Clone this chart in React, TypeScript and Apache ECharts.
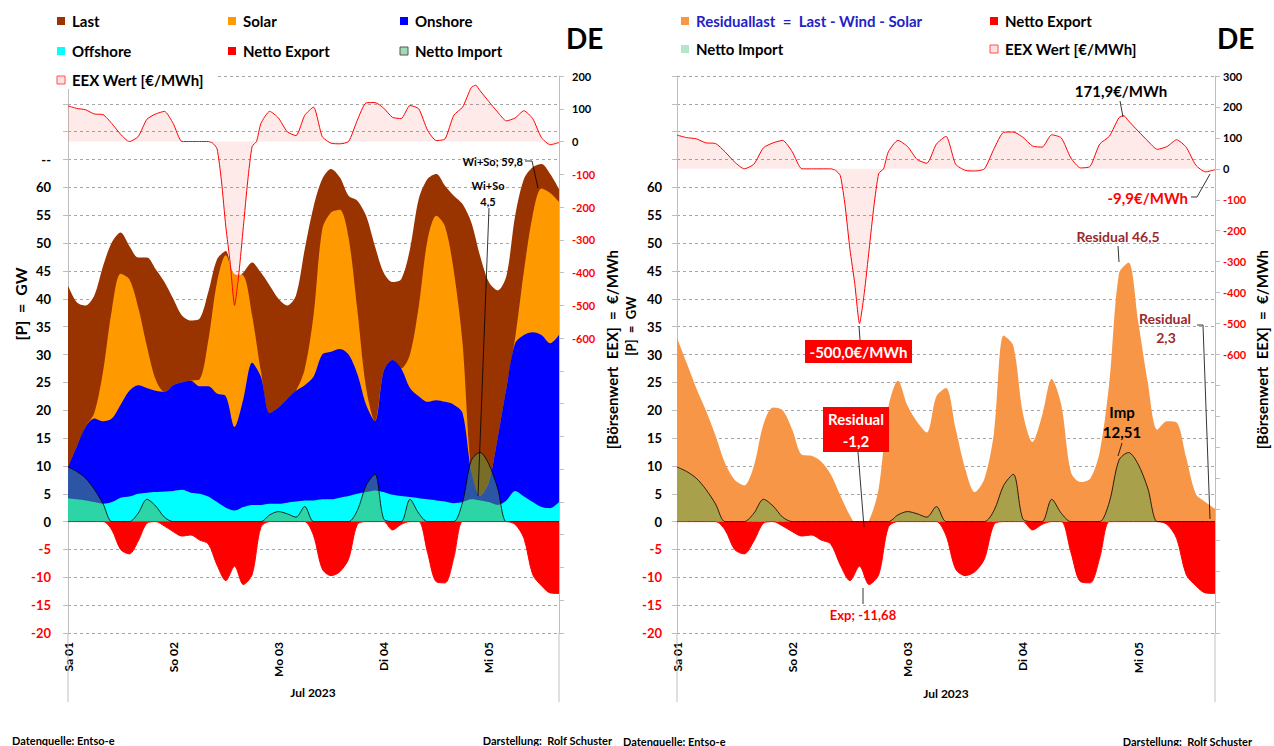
import React, { useEffect, useRef } from 'react';
import * as echarts from 'echarts';

const FONT = 'Lato, "Open Sans", sans-serif';

// hours since Sa 01.07.2023 00:00
const hours = [0, 2, 4, 6, 8, 10, 12, 14, 16, 18, 20, 22, 24, 26, 28, 30, 32, 34, 36, 38, 40, 42, 44, 46, 48, 50, 52, 54, 56, 58, 60, 62, 64, 66, 68, 70, 72, 74, 76, 78, 80, 82, 84, 86, 88, 90, 92, 94, 96, 98, 100, 102, 104, 106, 108, 110, 112];
const dayLabels = ['Sa 01', 'So 02', 'Mo 03', 'Di 04', 'Mi 05'];

// GW
const last = [42.4, 39.4, 38.8, 40.6, 45.9, 50.1, 51.9, 49.5, 47.4, 47.4,
  45.3, 43.0, 40.0, 37.0, 36.1, 36.4, 41.2, 47.1, 48.6, 43.2,
  44.7, 46.5, 44.7, 42.4, 40.0, 38.8, 40.6, 48.9, 56.5, 61.5,
  63.3, 61.8, 58.5, 57.6, 54.9, 49.5, 44.7, 43.0, 43.5, 48.9,
  57.9, 61.5, 62.4, 60.3, 58.5, 57.0, 53.7, 47.7, 43.0, 41.5,
  44.1, 54.9, 61.5, 63.6, 64.2, 62.4, 59.7];
const offshore = [4.2, 4.0, 3.8, 3.5, 3.2, 3.5, 4.3, 4.5, 5.0, 5.2,
  5.3, 5.4, 5.5, 5.7, 5.2, 5.0, 4.5, 3.5, 2.5, 2.0,
  2.6, 3.0, 3.0, 3.2, 3.2, 3.4, 3.6, 3.8, 3.8, 4.0,
  4.0, 4.3, 4.6, 5.0, 5.3, 5.6, 5.3, 4.8, 4.6, 4.4,
  4.2, 4.0, 3.8, 3.6, 3.3, 3.5, 4.0, 3.8, 3.5, 3.0,
  3.8, 5.5, 4.5, 3.5, 2.6, 2.4, 3.5];
const onshore = [5.6, 9.5, 13.2, 15.0, 14.8, 15.0, 16.7, 19.0, 19.5, 18.8,
  18.2, 17.9, 19.0, 19.3, 20.1, 19.3, 19.8, 19.5, 20.0, 15.0,
  19.4, 25.5, 23.0, 16.3, 17.3, 18.6, 19.9, 20.7, 22.2, 26.0,
  26.5, 26.7, 25.4, 21.5, 15.7, 12.4, 21.7, 24.2, 22.9, 19.6,
  18.3, 17.5, 18.0, 17.9, 17.7, 16.0, 5.0, 0.8, 3.5, 12.0,
  20.2, 26.5, 29.0, 30.5, 30.9, 29.6, 30.0];
const solar = [0, 0, 0, 1.0, 9.0, 19.5, 23.5, 20.0, 14.0, 7.5,
  2.0, 0, 0, 0, 0, 1.2, 8.2, 20.0, 25.3, 27.4,
  22.2, 8.5, 1.0, 0, 0, 0, 0, 2.9, 11.0, 22.5,
  25.0, 25.0, 21.0, 11.5, 3.0, 0, 0, 0, 0, 6.0,
  16.1, 29.0, 33.1, 31.5, 24.0, 12.5, 0, 0, 0, 0,
  0, 1.0, 11.5, 21.0, 26.3, 27.0, 23.9];
const nettoExport = [0, 0, 0, 0, 0, -1.5, -5.0, -5.8, -3.5, -0.3,
  0, -0.8, -1.8, -2.6, -2.4, -3.3, -4.0, -7.8, -10.6, -8.0,
  -11.3, -9.5, -1.0, 0, 0, 0, 0, 0, -2.5, -8.5,
  -9.7, -9.0, -6.7, -0.5, 0, 0, 0, -1.5, -0.5, 0,
  0, -5.5, -10.8, -11.0, -6.5, 0, 0, 0, 0, 0,
  0, -0.5, -3.0, -9.5, -11.5, -12.8, -12.9];
const nettoImport = [9.8, 9.0, 7.8, 5.8, 3.2, 0, 0, 0, 1.5, 4.0,
  2.8, 0.8, 0, 0, 0, 0, 0, 0, 0, 0,
  0, 0, 0, 1.2, 1.8, 1.4, 0.8, 2.7, 0, 0,
  0, 0, 0, 2.0, 6.5, 8.5, 0.5, 0, 0, 4.0,
  1.5, 0, 0, 0, 0, 3.5, 11.0, 12.4, 10.3, 6.0,
  0, 0, 0, 0, 0, 0, 0];
const residual = [33.0, 28.5, 24.0, 20.0, 15.5, 10.5, 7.5, 6.5, 10.0, 17.5,
  20.5, 20.0, 16.5, 12.0, 11.8, 10.8, 8.5, 4.7, 1.1, -1.2,
  0.3, 6.0, 20.5, 25.3, 20.8, 17.9, 16.0, 22.5, 24.0, 16.7,
  9.5, 5.3, 7.7, 16.0, 33.4, 31.6, 19.5, 14.3, 19.0, 25.6,
  21.0, 8.9, 7.1, 7.7, 12.5, 25.0, 44.5, 46.5, 36.0, 25.0,
  16.5, 18.0, 17.8, 11.5, 5.0, 3.5, 2.3];

// EUR/MWh
const priceHours = [0, 2, 4, 6, 8, 10, 12, 14, 16, 18, 20, 22, 24, 26, 28, 30, 32,
  33, 34, 35, 36, 37, 38, 39, 40, 41, 42, 43,
  44, 46, 48, 50, 52, 54, 56, 58, 60, 62, 64, 66, 68, 70, 72, 74, 76, 78, 80, 82, 84, 86, 88, 90, 92,
  93, 94, 96, 98, 100, 102, 104, 106, 108, 110, 112];
const price = [109, 101, 97, 84, 82, 55, 22, 0, 15, 68, 84, 92, 55, 0, 0, 0, 0,
  -5, -22, -120, -260, -370, -500, -400, -260, -120, -15, 0,
  55, 92, 72, 30, 18, 80, 105, 15, -5, -7, 0, 65, 118, 119, 102, 74, 70, 110, 100, 35, 3, 8, 80, 105, 165,
  171.9, 155, 122, 90, 63, 72, 94, 70, 12, -9.9, -3];

const pairs = (xs: number[], ys: number[]) => xs.map((x, i) => [x, ys[i]]);
// cumulative generation layers (drawn back to front, each from 0)
const windTotal = offshore.map((v, i) => v + onshore[i]);
const genTotal = windTotal.map((v, i) => v + solar[i]);

const GRAY = '#bfbfbf';
const richB = (size: number) => ({
  b: { color: '#000', fontWeight: 'bold', fontSize: size, fontFamily: FONT },
  r: { color: '#ff0000', fontWeight: 'bold', fontSize: size, fontFamily: FONT },
});

const gwAxis = (gridIndex: number, dash: boolean, margin: number) => ({
  type: 'value', gridIndex, position: 'left', min: -20, max: 80, interval: 5,
  axisLine: { show: true, lineStyle: { color: GRAY, width: 1 } },
  axisTick: { show: true, length: 5, lineStyle: { color: GRAY } },
  splitLine: { show: true, lineStyle: { color: '#a6a6a6', type: [3, 3], width: 1 } },
  axisLabel: {
    margin,
    formatter: (v: number) => (v > 60 ? (dash && v === 65 ? '{b|--}' : '') : v < 0 ? `{r|${v}}` : `{b|${v}}`),
    rich: richB(13),
  },
});

const priceAxis = (gridIndex: number, max: number, margin: number) => ({
  type: 'value', gridIndex, position: 'right', min: -1500, max, interval: 100,
  axisLine: { show: true, lineStyle: { color: GRAY, width: 1 } },
  axisTick: { show: true, length: 5, lineStyle: { color: GRAY } },
  splitLine: { show: false },
  axisLabel: {
    margin,
    formatter: (v: number) => (v < -600 ? '' : v < 0 ? `{r|${v}}` : `{b|${v}}`),
    rich: richB(11),
  },
});

const xAxis = (gridIndex: number) => ({
  type: 'value', gridIndex, min: 0, max: 112, interval: 24,
  axisLine: { show: false }, axisTick: { show: false }, splitLine: { show: false },
  axisLabel: {
    rotate: 90, margin: 9, color: '#000', fontWeight: 'bold', fontSize: 12, fontFamily: FONT,
    formatter: (v: number) => (v % 24 === 0 && v / 24 < dayLabels.length ? dayLabels[v / 24] : ''),
  },
});

const area = (name: string, xi: number, yi: number, data: number[][], color: string, extra: any = {}) => ({
  type: 'line', name, xAxisIndex: xi, yAxisIndex: yi, data, symbol: 'none', showSymbol: false,
  smooth: 0.3, silent: true, lineStyle: { width: 0 }, areaStyle: { color, opacity: 1 },
  emphasis: { disabled: true }, ...extra,
});

const IMPORT_FILL = 'rgba(90,170,78,0.5)';
const priceSeries = (xi: number, yi: number) => ({
  type: 'line', name: 'EEX Wert', xAxisIndex: xi, yAxisIndex: yi, data: pairs(priceHours, price),
  symbol: 'none', showSymbol: false, smooth: 0.2, silent: true,
  lineStyle: { width: 1, color: '#ff0000' }, areaStyle: { color: 'rgba(255,0,0,0.12)' },
  emphasis: { disabled: true },
});

// ---------- graphic helpers ----------
const txt = (text: string, x: number, y: number, o: any = {}) => ({
  type: 'text', x, y, z: 100, silent: true, rotation: o.rot || 0,
  style: {
    text, fill: o.fill || '#000', font: `bold ${o.size || 14}px ${FONT}`,
    textAlign: o.align || 'left', align: o.align || 'left',
    textVerticalAlign: 'middle', verticalAlign: 'middle',
  },
});
const box = (x: number, y: number, w: number, h: number, fill: string, stroke?: string) => ({
  type: 'rect', z: 99, silent: true, shape: { x, y, width: w, height: h },
  style: stroke ? { fill, stroke, lineWidth: 1 } : { fill },
});
const seg = (pts: number[][], stroke = '#000', w = 0.8) => ({
  type: 'polyline', z: 100, silent: true, shape: { points: pts }, style: { stroke, lineWidth: w, fill: null },
});
const legend = (x: number, y: number, color: string, label: string, o: any = {}) => [
  box(x, y - 4, 8, 8, color, o.stroke),
  txt(label, x + 15, y, { size: 15, fill: o.fill || '#000' }),
];

const DARKRED = '#9c2a2c';

const graphics: any[] = [
  // left legend
  box(55, 70, 160, 19, '#ffffff'),
  ...legend(57, 21, '#993300', 'Last'),
  ...legend(228, 21, '#ff9900', 'Solar'),
  ...legend(400, 21, '#0000ff', 'Onshore'),
  ...legend(57, 51, '#00ffff', 'Offshore'),
  ...legend(228, 51, '#ff0000', 'Netto Export'),
  ...legend(400, 51, '#9fdcb4', 'Netto Import', { stroke: '#555555' }),
  ...legend(57, 80, '#ffe0e0', 'EEX Wert [€/MWh]', { stroke: '#ff5050' }),
  txt('DE', 566, 38, { size: 28 }),
  // right legend
  ...legend(681, 21, '#f79646', 'Residuallast  =  Last - Wind - Solar', { fill: '#2222c8' }),
  ...legend(990, 21, '#ff0000', 'Netto Export'),
  ...legend(681, 49, '#b3e6c8', 'Netto Import'),
  ...legend(990, 49, '#ffe0e0', 'EEX Wert [€/MWh]', { stroke: '#ff5050' }),
  txt('DE', 1217, 38, { size: 28 }),
  // axis names
  txt('[P]  =  GW', 20, 304, { size: 16, rot: Math.PI / 2, align: 'center' }),
  txt('[Börsenwert  EEX]  =  €/MWh', 612, 250, { size: 15, rot: Math.PI / 2, align: 'right' }),
  txt('[P]  =  GW', 631, 326, { size: 13, rot: Math.PI / 2, align: 'center' }),
  txt('[Börsenwert  EEX]  =  €/MWh', 1262, 250, { size: 15, rot: Math.PI / 2, align: 'right' }),
  // x axis names
  txt('Jul 2023', 313, 692, { size: 12, align: 'center' }),
  txt('Jul 2023', 946, 693, { size: 12, align: 'center' }),
  // plot border extensions
  seg([[68, 633], [68, 702]], GRAY, 1),
  seg([[559, 633], [559, 702]], GRAY, 1),
  seg([[677, 633], [677, 702]], GRAY, 1),
  seg([[1215, 633], [1215, 702]], GRAY, 1),
  // footer
  txt('Datenquelle: Entso-e', 12, 740, { size: 11 }),
  txt('Darstellung:  Rolf Schuster', 612, 740, { size: 11, align: 'right' }),
  txt('Datenquelle: Entso-e', 623, 741, { size: 11 }),
  txt('Darstellung:  Rolf Schuster', 1252, 741, { size: 11, align: 'right' }),
  // left annotations
  txt('Wi+So; 59,8', 523, 161, { size: 11, align: 'right' }),
  seg([[525, 161], [532, 161], [538, 188]]),
  txt('Wi+So', 488, 185, { size: 11, align: 'center' }),
  txt('4,5', 488, 201, { size: 11, align: 'center' }),
  seg([[489, 208], [478, 496]]),
  // right annotations
  txt('171,9€/MWh', 1121, 91, { size: 15, align: 'center' }),
  seg([[1120, 101], [1123, 117]]),
  txt('-9,9€/MWh', 1188, 198, { size: 15, align: 'right', fill: '#ff0000' }),
  seg([[1191, 197], [1197, 197], [1210, 174]]),
  txt('Residual 46,5', 1118, 236, { size: 14, align: 'center', fill: DARKRED }),
  seg([[1118, 246], [1119, 262]]),
  txt('Residual', 1165, 318, { size: 14, align: 'center', fill: DARKRED }),
  txt('2,3', 1166, 337, { size: 14, align: 'center', fill: DARKRED }),
  seg([[1197, 325], [1203, 325], [1210, 519]]),
  box(805, 340, 107, 23, '#ff0000'),
  txt('-500,0€/MWh', 858.5, 352, { size: 15, align: 'center', fill: '#ffffff' }),
  seg([[860, 340], [859, 326]]),
  box(823, 407, 66, 45, '#ff0000'),
  txt('Residual', 856, 419, { size: 15, align: 'center', fill: '#ffffff' }),
  txt('-1,2', 856, 441, { size: 15, align: 'center', fill: '#ffffff' }),
  seg([[858, 452], [864, 527]]),
  txt('Exp; -11,68', 863, 615, { size: 13, align: 'center', fill: '#ff0000' }),
  seg([[863, 604], [863, 588]]),
  txt('Imp', 1122, 412, { size: 15, align: 'center' }),
  txt('12,51', 1122, 432, { size: 15, align: 'center' }),
  seg([[1122, 443], [1118, 456]]),
];

const option: any = {
  animation: false,
  backgroundColor: '#ffffff',
  textStyle: { fontFamily: FONT },
  grid: [
    { left: 68, top: 76, width: 491, height: 557 },
    { left: 677, top: 76, width: 538, height: 557 },
  ],
  xAxis: [xAxis(0), xAxis(1)],
  yAxis: [gwAxis(0, true, 17), priceAxis(0, 200, 13), gwAxis(1, false, 15), priceAxis(1, 300, 8)],
  series: [
    // left chart
    area('Last', 0, 0, pairs(hours, last), '#993300'),
    area('Solar', 0, 0, pairs(hours, genTotal), '#ff9900'),
    area('Onshore', 0, 0, pairs(hours, windTotal), '#0000ff'),
    area('Offshore', 0, 0, pairs(hours, offshore), '#00ffff'),
    area('Netto Import', 0, 0, pairs(hours, nettoImport), IMPORT_FILL, { lineStyle: { width: 0.8, color: '#000' } }),
    area('Netto Export', 0, 0, pairs(hours, nettoExport), '#ff0000', { lineStyle: { width: 1, color: '#ff0000' } }),
    priceSeries(0, 1),
    // right chart
    area('Residuallast', 1, 2, pairs(hours, residual), '#f79646'),
    area('Netto Export', 1, 2, pairs(hours, nettoExport), '#ff0000', { lineStyle: { width: 1, color: '#ff0000' } }),
    area('Netto Import', 1, 2, pairs(hours, nettoImport), IMPORT_FILL, { lineStyle: { width: 0.8, color: '#000' } }),
    priceSeries(1, 3),
  ],
  graphic: { elements: graphics },
};

export default function App() {
  const ref = useRef<HTMLDivElement>(null);
  useEffect(() => {
    const chart = echarts.init(ref.current!, null, { renderer: 'svg' });
    chart.setOption(option);
    return () => chart.dispose();
  }, []);
  return (
    <div
      ref={ref}
      style={{ position: 'absolute', left: 0, top: 0, width: 1274, height: 746, background: '#fff' }}
    />
  );
}
